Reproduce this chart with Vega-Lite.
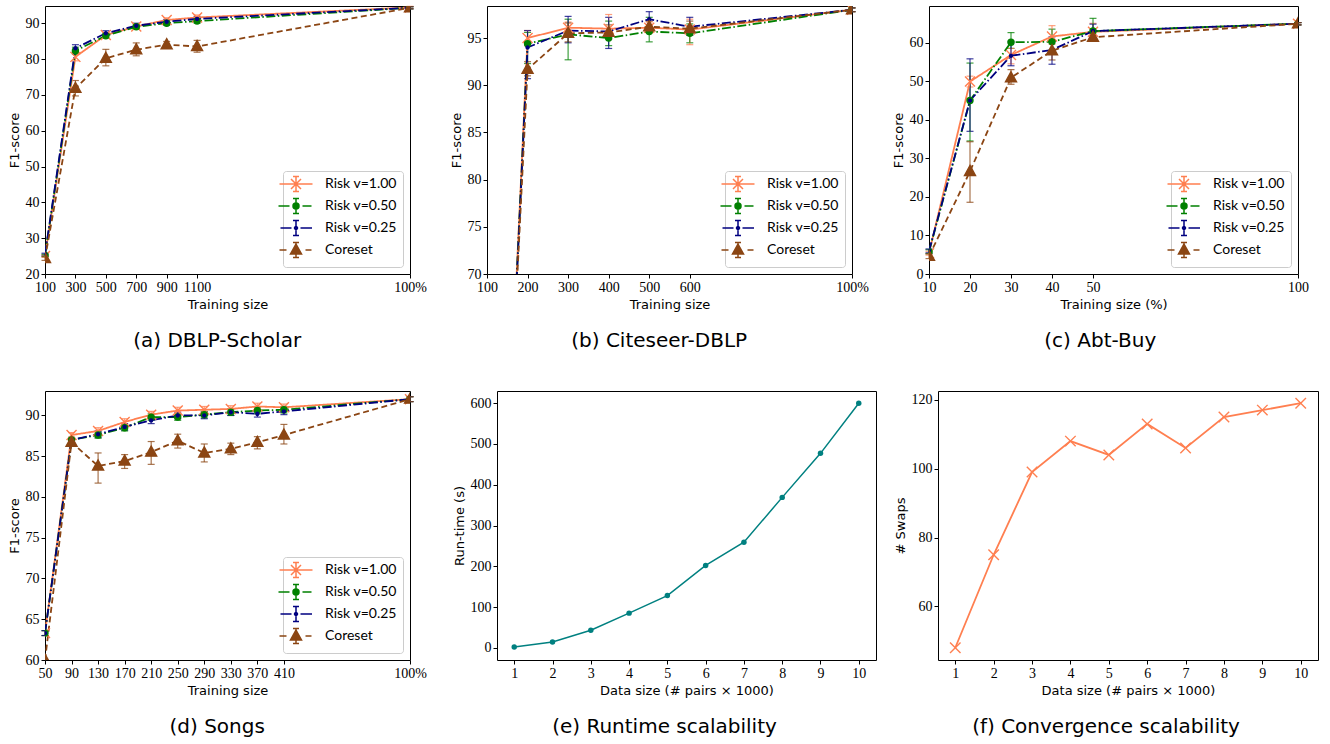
{
"$schema": "https://vega.github.io/schema/vega-lite/v6.json",
"background": "white",
"padding": {"left": 7, "top": 5, "right": 5, "bottom": 5},
"config": {
  "view": {"stroke": "#000000", "strokeWidth": 1},
  "axis": {"grid": false, "domain": false, "ticks": true, "tickSize": 4, "tickColor": "#000000", "labelFont": "Liberation Serif, DejaVu Serif, serif", "labelFontSize": 14, "labelColor": "#000000", "titleFont": "DejaVu Sans", "titleFontSize": 13, "titleFontWeight": "normal", "titleColor": "#000000", "labelPadding": 2, "titlePadding": 4},
  "axisX": {"labelFlush": false, "labelOverlap": false},
  "axisY": {"labelOverlap": false},
  "legend": {"orient": "bottom-right", "offset": 7, "padding": 6, "strokeColor": "#cccccc", "cornerRadius": 3, "fillColor": "#ffffff", "labelFont": "Lato", "labelFontSize": 14, "labelColor": "#000000", "rowPadding": 0, "symbolSize": 100, "symbolStrokeWidth": 1.5, "labelOffset": 22},
  "title": {"orient": "bottom", "anchor": "middle", "frame": "bounds", "font": "DejaVu Sans", "fontSize": 20, "fontWeight": "normal", "color": "#000000", "offset": 20}
},
"datasets": {
  "a": [
    {"s":"Risk v=1.00","x":100,"y":25.0,"lo":24.7,"hi":25.3},
    {"s":"Risk v=1.00","x":300,"y":80.6,"lo":79.5,"hi":81.8},
    {"s":"Risk v=1.00","x":500,"y":86.7,"lo":86.0,"hi":87.4},
    {"s":"Risk v=1.00","x":700,"y":89.1,"lo":88.4,"hi":89.8},
    {"s":"Risk v=1.00","x":900,"y":90.9,"lo":90.3,"hi":91.5},
    {"s":"Risk v=1.00","x":1100,"y":91.6,"lo":90.9,"hi":92.3},
    {"s":"Risk v=1.00","x":2500,"y":94.4,"lo":94.1,"hi":94.7},
    {"s":"Risk v=0.50","x":100,"y":25.2,"lo":24.9,"hi":25.5},
    {"s":"Risk v=0.50","x":300,"y":82.3,"lo":81.3,"hi":83.3},
    {"s":"Risk v=0.50","x":500,"y":86.5,"lo":85.8,"hi":87.2},
    {"s":"Risk v=0.50","x":700,"y":89.0,"lo":88.3,"hi":89.7},
    {"s":"Risk v=0.50","x":900,"y":90.0,"lo":89.4,"hi":90.6},
    {"s":"Risk v=0.50","x":1100,"y":90.6,"lo":90.0,"hi":91.2},
    {"s":"Risk v=0.50","x":2500,"y":94.3,"lo":94.0,"hi":94.6},
    {"s":"Risk v=0.25","x":100,"y":25.5,"lo":25.2,"hi":25.8},
    {"s":"Risk v=0.25","x":300,"y":83.0,"lo":82.0,"hi":84.0},
    {"s":"Risk v=0.25","x":500,"y":87.2,"lo":86.5,"hi":87.9},
    {"s":"Risk v=0.25","x":700,"y":89.3,"lo":88.6,"hi":90.0},
    {"s":"Risk v=0.25","x":900,"y":90.4,"lo":89.8,"hi":91.0},
    {"s":"Risk v=0.25","x":1100,"y":91.2,"lo":90.6,"hi":91.8},
    {"s":"Risk v=0.25","x":2500,"y":94.3,"lo":94.0,"hi":94.6},
    {"s":"Coreset","x":100,"y":24.3,"lo":23.8,"hi":24.8},
    {"s":"Coreset","x":300,"y":71.8,"lo":69.7,"hi":74.0},
    {"s":"Coreset","x":500,"y":80.2,"lo":78.1,"hi":82.7},
    {"s":"Coreset","x":700,"y":82.6,"lo":80.9,"hi":84.5},
    {"s":"Coreset","x":900,"y":84.0,"lo":83.1,"hi":84.9},
    {"s":"Coreset","x":1100,"y":83.5,"lo":81.9,"hi":85.2},
    {"s":"Coreset","x":2500,"y":94.3,"lo":94.0,"hi":94.6}
  ],
  "b": [
    {"s":"Risk v=1.00","x":100,"y":2,"lo":null,"hi":null},
    {"s":"Risk v=1.00","x":200,"y":95.0,"lo":94.2,"hi":95.8},
    {"s":"Risk v=1.00","x":300,"y":96.1,"lo":95.5,"hi":96.7},
    {"s":"Risk v=1.00","x":400,"y":96.0,"lo":95.2,"hi":97.5},
    {"s":"Risk v=1.00","x":500,"y":96.1,"lo":95.5,"hi":96.7},
    {"s":"Risk v=1.00","x":600,"y":95.9,"lo":94.3,"hi":97.0},
    {"s":"Risk v=1.00","x":1000,"y":98.0,"lo":97.8,"hi":98.2},
    {"s":"Risk v=0.50","x":100,"y":2,"lo":null,"hi":null},
    {"s":"Risk v=0.50","x":200,"y":94.4,"lo":92.3,"hi":95.6},
    {"s":"Risk v=0.50","x":300,"y":95.4,"lo":92.7,"hi":97.0},
    {"s":"Risk v=0.50","x":400,"y":95.0,"lo":94.2,"hi":96.8},
    {"s":"Risk v=0.50","x":500,"y":95.7,"lo":94.6,"hi":97.2},
    {"s":"Risk v=0.50","x":600,"y":95.5,"lo":94.5,"hi":96.5},
    {"s":"Risk v=0.50","x":1000,"y":98.0,"lo":97.8,"hi":98.2},
    {"s":"Risk v=0.25","x":100,"y":2,"lo":null,"hi":null},
    {"s":"Risk v=0.25","x":200,"y":94.0,"lo":90.7,"hi":95.8},
    {"s":"Risk v=0.25","x":300,"y":95.8,"lo":94.5,"hi":97.3},
    {"s":"Risk v=0.25","x":400,"y":95.7,"lo":93.9,"hi":97.2},
    {"s":"Risk v=0.25","x":500,"y":97.0,"lo":96.1,"hi":97.8},
    {"s":"Risk v=0.25","x":600,"y":96.2,"lo":95.3,"hi":97.2},
    {"s":"Risk v=0.25","x":1000,"y":98.0,"lo":97.8,"hi":98.2},
    {"s":"Coreset","x":100,"y":5,"lo":null,"hi":null},
    {"s":"Coreset","x":200,"y":91.7,"lo":91.0,"hi":92.5},
    {"s":"Coreset","x":300,"y":95.5,"lo":94.6,"hi":96.6},
    {"s":"Coreset","x":400,"y":95.6,"lo":94.9,"hi":96.4},
    {"s":"Coreset","x":500,"y":96.2,"lo":95.6,"hi":96.8},
    {"s":"Coreset","x":600,"y":96.0,"lo":95.3,"hi":96.8},
    {"s":"Coreset","x":1000,"y":98.0,"lo":97.8,"hi":98.2}
  ],
  "c": [
    {"s":"Risk v=1.00","x":10,"y":5.4,"lo":4.9,"hi":5.9},
    {"s":"Risk v=1.00","x":20,"y":49.9,"lo":48.5,"hi":51.3},
    {"s":"Risk v=1.00","x":30,"y":56.8,"lo":54.5,"hi":58.5},
    {"s":"Risk v=1.00","x":40,"y":61.6,"lo":59.6,"hi":64.4},
    {"s":"Risk v=1.00","x":50,"y":62.8,"lo":60.8,"hi":65.0},
    {"s":"Risk v=1.00","x":100,"y":64.9,"lo":64.6,"hi":65.2},
    {"s":"Risk v=0.50","x":10,"y":5.8,"lo":5.3,"hi":6.3},
    {"s":"Risk v=0.50","x":20,"y":45.0,"lo":34.5,"hi":54.7},
    {"s":"Risk v=0.50","x":30,"y":60.1,"lo":58.5,"hi":62.6},
    {"s":"Risk v=0.50","x":40,"y":60.2,"lo":57.5,"hi":63.5},
    {"s":"Risk v=0.50","x":50,"y":63.0,"lo":60.6,"hi":66.3},
    {"s":"Risk v=0.50","x":100,"y":64.9,"lo":64.6,"hi":65.2},
    {"s":"Risk v=0.25","x":10,"y":6.0,"lo":5.5,"hi":6.5},
    {"s":"Risk v=0.25","x":20,"y":45.0,"lo":37.0,"hi":55.8},
    {"s":"Risk v=0.25","x":30,"y":56.6,"lo":54.0,"hi":60.2},
    {"s":"Risk v=0.25","x":40,"y":58.1,"lo":54.4,"hi":61.5},
    {"s":"Risk v=0.25","x":50,"y":63.0,"lo":61.0,"hi":64.8},
    {"s":"Risk v=0.25","x":100,"y":64.9,"lo":64.6,"hi":65.2},
    {"s":"Coreset","x":10,"y":4.6,"lo":4.0,"hi":5.2},
    {"s":"Coreset","x":20,"y":26.6,"lo":18.6,"hi":34.3},
    {"s":"Coreset","x":30,"y":50.9,"lo":49.2,"hi":53.0},
    {"s":"Coreset","x":40,"y":57.9,"lo":55.5,"hi":60.5},
    {"s":"Coreset","x":50,"y":61.4,"lo":60.5,"hi":62.5},
    {"s":"Coreset","x":100,"y":64.9,"lo":64.6,"hi":65.2}
  ],
  "d": [
    {"s":"Risk v=1.00","x":50,"y":63.3,"lo":63.0,"hi":63.6},
    {"s":"Risk v=1.00","x":90,"y":87.6,"lo":87.3,"hi":87.9},
    {"s":"Risk v=1.00","x":130,"y":88.1,"lo":87.7,"hi":88.5},
    {"s":"Risk v=1.00","x":170,"y":89.2,"lo":88.8,"hi":89.6},
    {"s":"Risk v=1.00","x":210,"y":90.1,"lo":89.7,"hi":90.5},
    {"s":"Risk v=1.00","x":250,"y":90.6,"lo":90.2,"hi":91.0},
    {"s":"Risk v=1.00","x":290,"y":90.7,"lo":90.3,"hi":91.1},
    {"s":"Risk v=1.00","x":330,"y":90.8,"lo":90.4,"hi":91.2},
    {"s":"Risk v=1.00","x":370,"y":91.1,"lo":90.7,"hi":91.5},
    {"s":"Risk v=1.00","x":410,"y":91.0,"lo":90.6,"hi":91.4},
    {"s":"Risk v=1.00","x":600,"y":92.0,"lo":91.7,"hi":92.3},
    {"s":"Risk v=0.50","x":50,"y":63.3,"lo":63.0,"hi":63.6},
    {"s":"Risk v=0.50","x":90,"y":87.0,"lo":86.7,"hi":87.3},
    {"s":"Risk v=0.50","x":130,"y":87.6,"lo":87.2,"hi":88.0},
    {"s":"Risk v=0.50","x":170,"y":88.5,"lo":88.1,"hi":88.9},
    {"s":"Risk v=0.50","x":210,"y":89.8,"lo":89.4,"hi":90.2},
    {"s":"Risk v=0.50","x":250,"y":89.8,"lo":89.4,"hi":90.2},
    {"s":"Risk v=0.50","x":290,"y":90.1,"lo":89.7,"hi":90.5},
    {"s":"Risk v=0.50","x":330,"y":90.4,"lo":90.0,"hi":90.8},
    {"s":"Risk v=0.50","x":370,"y":90.6,"lo":90.2,"hi":91.0},
    {"s":"Risk v=0.50","x":410,"y":90.7,"lo":90.3,"hi":91.1},
    {"s":"Risk v=0.50","x":600,"y":92.0,"lo":91.7,"hi":92.3},
    {"s":"Risk v=0.25","x":50,"y":63.3,"lo":63.0,"hi":63.6},
    {"s":"Risk v=0.25","x":90,"y":87.0,"lo":86.7,"hi":87.3},
    {"s":"Risk v=0.25","x":130,"y":87.7,"lo":87.3,"hi":88.1},
    {"s":"Risk v=0.25","x":170,"y":88.6,"lo":88.2,"hi":89.0},
    {"s":"Risk v=0.25","x":210,"y":89.4,"lo":89.0,"hi":89.8},
    {"s":"Risk v=0.25","x":250,"y":90.0,"lo":89.6,"hi":90.4},
    {"s":"Risk v=0.25","x":290,"y":90.0,"lo":89.6,"hi":90.4},
    {"s":"Risk v=0.25","x":330,"y":90.4,"lo":90.0,"hi":90.8},
    {"s":"Risk v=0.25","x":370,"y":90.2,"lo":89.8,"hi":90.6},
    {"s":"Risk v=0.25","x":410,"y":90.5,"lo":90.1,"hi":90.9},
    {"s":"Risk v=0.25","x":600,"y":92.0,"lo":91.7,"hi":92.3},
    {"s":"Coreset","x":50,"y":60.0,"lo":null,"hi":null},
    {"s":"Coreset","x":90,"y":86.7,"lo":86.3,"hi":87.1},
    {"s":"Coreset","x":130,"y":83.8,"lo":81.7,"hi":85.4},
    {"s":"Coreset","x":170,"y":84.4,"lo":83.5,"hi":85.2},
    {"s":"Coreset","x":210,"y":85.5,"lo":84.0,"hi":86.8},
    {"s":"Coreset","x":250,"y":86.9,"lo":86.0,"hi":87.7},
    {"s":"Coreset","x":290,"y":85.4,"lo":84.3,"hi":86.5},
    {"s":"Coreset","x":330,"y":85.9,"lo":85.2,"hi":86.6},
    {"s":"Coreset","x":370,"y":86.7,"lo":85.9,"hi":87.4},
    {"s":"Coreset","x":410,"y":87.6,"lo":86.5,"hi":88.9},
    {"s":"Coreset","x":600,"y":92.0,"lo":91.7,"hi":92.3}
  ],
  "e": [
    {"x":1,"y":2},{"x":2,"y":14},{"x":3,"y":43},{"x":4,"y":85},{"x":5,"y":128},
    {"x":6,"y":202},{"x":7,"y":259},{"x":8,"y":369},{"x":9,"y":477},{"x":10,"y":600}
  ],
  "f": [
    {"x":1,"y":48},{"x":2,"y":75},{"x":3,"y":99},{"x":4,"y":108},{"x":5,"y":104},
    {"x":6,"y":113},{"x":7,"y":106},{"x":8,"y":115},{"x":9,"y":117},{"x":10,"y":119}
  ]
},
"spacing": 38,
"vconcat": [
 {"hconcat": [
  {
   "width": 365, "height": 268,
   "title": {"text": "(a) DBLP-Scholar"},
   "data": {"name": "a"},
   "encoding": {"x": {"field": "x", "type": "quantitative", "scale": {"domain": [100, 2500], "nice": false, "zero": false}, "axis": {"values": [100,300,500,700,900,1100,2500], "format": "d", "labelExpr": "datum.value == 2500 ? '100%' : datum.label", "title": "Training size"}}},
   "layer": [
    {"transform": [{"filter": "datum.lo != null"}],
     "mark": {"type": "errorbar", "ticks": {"size": 7, "opacity": 0.75}, "rule": {"opacity": 0.75}, "thickness": 1.2},
     "encoding": {"y": {"field": "lo", "type": "quantitative", "scale": {"domain": [20, 94.8], "nice": false, "zero": false}, "axis": {"values": [20,30,40,50,60,70,80,90], "title": "F1-score"}}, "y2": {"field": "hi"},
       "color": {"field": "s", "type": "nominal", "scale": {"domain": ["Risk v=1.00","Risk v=0.50","Risk v=0.25","Coreset"], "range": ["#FF7F50","#008000","#000080","#8B4513"]}, "legend": null}}},
    {"mark": {"type": "line", "strokeWidth": 1.8, "clip": true},
     "encoding": {"y": {"field": "y", "type": "quantitative", "scale": {"domain": [20, 94.8], "nice": false, "zero": false}, "axis": {"values": [20,30,40,50,60,70,80,90], "title": "F1-score"}},
       "color": {"field": "s", "type": "nominal", "scale": {"domain": ["Risk v=1.00","Risk v=0.50","Risk v=0.25","Coreset"], "range": ["#FF7F50","#008000","#000080","#8B4513"]}, "legend": null},
       "strokeDash": {"field": "s", "type": "nominal", "scale": {"domain": ["Risk v=1.00","Risk v=0.50","Risk v=0.25","Coreset"], "range": [[1,0],[9,2.5,1.5,2.5],[9,2.5,1.5,2.5],[6,3.5]]}, "legend": null}}},
    {"mark": {"type": "point", "filled": true, "strokeWidth": 1.4, "opacity": 1, "size": 100, "clip": true},
     "encoding": {"y": {"field": "y", "type": "quantitative", "scale": {"domain": [20, 94.8], "nice": false, "zero": false}, "axis": {"values": [20,30,40,50,60,70,80,90], "title": "F1-score"}},
       "fill": {"field": "s", "type": "nominal", "scale": {"domain": ["Risk v=1.00","Risk v=0.50","Risk v=0.25","Coreset"], "range": ["transparent","#008000","#000080","#8B4513"]}, "legend": null},
       "stroke": {"field": "s", "type": "nominal", "scale": {"domain": ["Risk v=1.00","Risk v=0.50","Risk v=0.25","Coreset"], "range": ["#FF7F50","#008000","#000080","#8B4513"]}, "legend": null},
       "shape": {"field": "s", "type": "nominal", "scale": {"domain": ["Risk v=1.00","Risk v=0.50","Risk v=0.25","Coreset"], "range": ["M-1,-1L1,1M-1,1L1,-1","M-0.6,0A0.6,0.6,0,1,0,0.6,0A0.6,0.6,0,1,0,-0.6,0Z","M-0.3,0A0.3,0.3,0,1,0,0.3,0A0.3,0.3,0,1,0,-0.3,0Z","M0,-1.2L1.1,0.8L-1.1,0.8Z"]}, "legend": null}}},
    {"transform": [{"filter": "false"}],
     "mark": {"type": "point", "filled": true, "strokeWidth": 1.5, "opacity": 1, "size": 100},
     "encoding": {
       "fill": {"field": "s", "type": "nominal", "scale": {"domain": ["Risk v=1.00","Risk v=0.50","Risk v=0.25","Coreset"], "range": ["#FF7F50","#008000","#000080","#8B4513"]}, "legend": {"title": null}},
       "stroke": {"field": "s", "type": "nominal", "scale": {"domain": ["Risk v=1.00","Risk v=0.50","Risk v=0.25","Coreset"], "range": ["#FF7F50","#008000","#000080","#8B4513"]}, "legend": {"title": null}},
       "shape": {"field": "s", "type": "nominal", "scale": {"domain": ["Risk v=1.00","Risk v=0.50","Risk v=0.25","Coreset"], "range": [
         "M-3.3,0L3.3,0M0,-1.5L0,1.5M-0.6,-1.5L0.6,-1.5M-0.6,1.5L0.6,1.5M-1,-1L1,1M-1,1L1,-1",
         "M-3.5,0L-1.3,0M1.3,0L3.1,0M0,-1.5L0,1.5M-0.6,-1.5L0.6,-1.5M-0.6,1.5L0.6,1.5M-0.6,0A0.6,0.6,0,1,0,0.6,0A0.6,0.6,0,1,0,-0.6,0Z",
         "M-3.1,0L-0.9,0M0.9,0L3.2,0M0,-1.5L0,1.5M-0.6,-1.5L0.6,-1.5M-0.6,1.5L0.6,1.5M-0.3,0A0.3,0.3,0,1,0,0.3,0A0.3,0.3,0,1,0,-0.3,0Z",
         "M-3.3,0L-1.9,0M1.9,0L3.1,0M0,-1.5L0,1.5M-0.6,-1.5L0.6,-1.5M-0.6,1.5L0.6,1.5M0,-1.2L1.1,0.8L-1.1,0.8Z"]}, "legend": {"title": null}}}}
   ],
   "resolve": {"scale": {"fill": "independent", "stroke": "independent", "shape": "independent"}}
  },
  {
   "width": 365, "height": 268,
   "title": {"text": "(b) Citeseer-DBLP"},
   "data": {"name": "b"},
   "encoding": {"x": {"field": "x", "type": "quantitative", "scale": {"domain": [100, 1000], "nice": false, "zero": false}, "axis": {"values": [100,200,300,400,500,600,1000], "format": "d", "labelExpr": "datum.value == 1000 ? '100%' : datum.label", "title": "Training size"}}},
   "layer": [
    {"transform": [{"filter": "datum.lo != null"}],
     "mark": {"type": "errorbar", "ticks": {"size": 7, "opacity": 0.75}, "rule": {"opacity": 0.75}, "thickness": 1.2},
     "encoding": {"y": {"field": "lo", "type": "quantitative", "scale": {"domain": [70, 98.4], "nice": false, "zero": false}, "axis": {"values": [70,75,80,85,90,95], "title": "F1-score"}}, "y2": {"field": "hi"},
       "color": {"field": "s", "type": "nominal", "scale": {"domain": ["Risk v=1.00","Risk v=0.50","Risk v=0.25","Coreset"], "range": ["#FF7F50","#008000","#000080","#8B4513"]}, "legend": null}}},
    {"mark": {"type": "line", "strokeWidth": 1.8, "clip": true},
     "encoding": {"y": {"field": "y", "type": "quantitative", "scale": {"domain": [70, 98.4], "nice": false, "zero": false}, "axis": {"values": [70,75,80,85,90,95], "title": "F1-score"}},
       "color": {"field": "s", "type": "nominal", "scale": {"domain": ["Risk v=1.00","Risk v=0.50","Risk v=0.25","Coreset"], "range": ["#FF7F50","#008000","#000080","#8B4513"]}, "legend": null},
       "strokeDash": {"field": "s", "type": "nominal", "scale": {"domain": ["Risk v=1.00","Risk v=0.50","Risk v=0.25","Coreset"], "range": [[1,0],[9,2.5,1.5,2.5],[9,2.5,1.5,2.5],[6,3.5]]}, "legend": null}}},
    {"mark": {"type": "point", "filled": true, "strokeWidth": 1.4, "opacity": 1, "size": 100, "clip": true},
     "encoding": {"y": {"field": "y", "type": "quantitative", "scale": {"domain": [70, 98.4], "nice": false, "zero": false}, "axis": {"values": [70,75,80,85,90,95], "title": "F1-score"}},
       "fill": {"field": "s", "type": "nominal", "scale": {"domain": ["Risk v=1.00","Risk v=0.50","Risk v=0.25","Coreset"], "range": ["transparent","#008000","#000080","#8B4513"]}, "legend": null},
       "stroke": {"field": "s", "type": "nominal", "scale": {"domain": ["Risk v=1.00","Risk v=0.50","Risk v=0.25","Coreset"], "range": ["#FF7F50","#008000","#000080","#8B4513"]}, "legend": null},
       "shape": {"field": "s", "type": "nominal", "scale": {"domain": ["Risk v=1.00","Risk v=0.50","Risk v=0.25","Coreset"], "range": ["M-1,-1L1,1M-1,1L1,-1","M-0.6,0A0.6,0.6,0,1,0,0.6,0A0.6,0.6,0,1,0,-0.6,0Z","M-0.3,0A0.3,0.3,0,1,0,0.3,0A0.3,0.3,0,1,0,-0.3,0Z","M0,-1.2L1.1,0.8L-1.1,0.8Z"]}, "legend": null}}},
    {"transform": [{"filter": "false"}],
     "mark": {"type": "point", "filled": true, "strokeWidth": 1.5, "opacity": 1, "size": 100},
     "encoding": {
       "fill": {"field": "s", "type": "nominal", "scale": {"domain": ["Risk v=1.00","Risk v=0.50","Risk v=0.25","Coreset"], "range": ["#FF7F50","#008000","#000080","#8B4513"]}, "legend": {"title": null}},
       "stroke": {"field": "s", "type": "nominal", "scale": {"domain": ["Risk v=1.00","Risk v=0.50","Risk v=0.25","Coreset"], "range": ["#FF7F50","#008000","#000080","#8B4513"]}, "legend": {"title": null}},
       "shape": {"field": "s", "type": "nominal", "scale": {"domain": ["Risk v=1.00","Risk v=0.50","Risk v=0.25","Coreset"], "range": [
         "M-3.3,0L3.3,0M0,-1.5L0,1.5M-0.6,-1.5L0.6,-1.5M-0.6,1.5L0.6,1.5M-1,-1L1,1M-1,1L1,-1",
         "M-3.5,0L-1.3,0M1.3,0L3.1,0M0,-1.5L0,1.5M-0.6,-1.5L0.6,-1.5M-0.6,1.5L0.6,1.5M-0.6,0A0.6,0.6,0,1,0,0.6,0A0.6,0.6,0,1,0,-0.6,0Z",
         "M-3.1,0L-0.9,0M0.9,0L3.2,0M0,-1.5L0,1.5M-0.6,-1.5L0.6,-1.5M-0.6,1.5L0.6,1.5M-0.3,0A0.3,0.3,0,1,0,0.3,0A0.3,0.3,0,1,0,-0.3,0Z",
         "M-3.3,0L-1.9,0M1.9,0L3.1,0M0,-1.5L0,1.5M-0.6,-1.5L0.6,-1.5M-0.6,1.5L0.6,1.5M0,-1.2L1.1,0.8L-1.1,0.8Z"]}, "legend": {"title": null}}}}
   ],
   "resolve": {"scale": {"fill": "independent", "stroke": "independent", "shape": "independent"}}
  },
  {
   "width": 369, "height": 268,
   "title": {"text": "(c) Abt-Buy"},
   "data": {"name": "c"},
   "encoding": {"x": {"field": "x", "type": "quantitative", "scale": {"domain": [10, 100], "nice": false, "zero": false}, "axis": {"values": [10,20,30,40,50,100], "title": "Training size (%)"}}},
   "layer": [
    {"transform": [{"filter": "datum.lo != null"}],
     "mark": {"type": "errorbar", "ticks": {"size": 7, "opacity": 0.75}, "rule": {"opacity": 0.75}, "thickness": 1.2},
     "encoding": {"y": {"field": "lo", "type": "quantitative", "scale": {"domain": [0, 69.5], "nice": false, "zero": false}, "axis": {"values": [0,10,20,30,40,50,60], "title": "F1-score"}}, "y2": {"field": "hi"},
       "color": {"field": "s", "type": "nominal", "scale": {"domain": ["Risk v=1.00","Risk v=0.50","Risk v=0.25","Coreset"], "range": ["#FF7F50","#008000","#000080","#8B4513"]}, "legend": null}}},
    {"mark": {"type": "line", "strokeWidth": 1.8, "clip": true},
     "encoding": {"y": {"field": "y", "type": "quantitative", "scale": {"domain": [0, 69.5], "nice": false, "zero": false}, "axis": {"values": [0,10,20,30,40,50,60], "title": "F1-score"}},
       "color": {"field": "s", "type": "nominal", "scale": {"domain": ["Risk v=1.00","Risk v=0.50","Risk v=0.25","Coreset"], "range": ["#FF7F50","#008000","#000080","#8B4513"]}, "legend": null},
       "strokeDash": {"field": "s", "type": "nominal", "scale": {"domain": ["Risk v=1.00","Risk v=0.50","Risk v=0.25","Coreset"], "range": [[1,0],[9,2.5,1.5,2.5],[9,2.5,1.5,2.5],[6,3.5]]}, "legend": null}}},
    {"mark": {"type": "point", "filled": true, "strokeWidth": 1.4, "opacity": 1, "size": 100, "clip": true},
     "encoding": {"y": {"field": "y", "type": "quantitative", "scale": {"domain": [0, 69.5], "nice": false, "zero": false}, "axis": {"values": [0,10,20,30,40,50,60], "title": "F1-score"}},
       "fill": {"field": "s", "type": "nominal", "scale": {"domain": ["Risk v=1.00","Risk v=0.50","Risk v=0.25","Coreset"], "range": ["transparent","#008000","#000080","#8B4513"]}, "legend": null},
       "stroke": {"field": "s", "type": "nominal", "scale": {"domain": ["Risk v=1.00","Risk v=0.50","Risk v=0.25","Coreset"], "range": ["#FF7F50","#008000","#000080","#8B4513"]}, "legend": null},
       "shape": {"field": "s", "type": "nominal", "scale": {"domain": ["Risk v=1.00","Risk v=0.50","Risk v=0.25","Coreset"], "range": ["M-1,-1L1,1M-1,1L1,-1","M-0.6,0A0.6,0.6,0,1,0,0.6,0A0.6,0.6,0,1,0,-0.6,0Z","M-0.3,0A0.3,0.3,0,1,0,0.3,0A0.3,0.3,0,1,0,-0.3,0Z","M0,-1.2L1.1,0.8L-1.1,0.8Z"]}, "legend": null}}},
    {"transform": [{"filter": "false"}],
     "mark": {"type": "point", "filled": true, "strokeWidth": 1.5, "opacity": 1, "size": 100},
     "encoding": {
       "fill": {"field": "s", "type": "nominal", "scale": {"domain": ["Risk v=1.00","Risk v=0.50","Risk v=0.25","Coreset"], "range": ["#FF7F50","#008000","#000080","#8B4513"]}, "legend": {"title": null}},
       "stroke": {"field": "s", "type": "nominal", "scale": {"domain": ["Risk v=1.00","Risk v=0.50","Risk v=0.25","Coreset"], "range": ["#FF7F50","#008000","#000080","#8B4513"]}, "legend": {"title": null}},
       "shape": {"field": "s", "type": "nominal", "scale": {"domain": ["Risk v=1.00","Risk v=0.50","Risk v=0.25","Coreset"], "range": [
         "M-3.3,0L3.3,0M0,-1.5L0,1.5M-0.6,-1.5L0.6,-1.5M-0.6,1.5L0.6,1.5M-1,-1L1,1M-1,1L1,-1",
         "M-3.5,0L-1.3,0M1.3,0L3.1,0M0,-1.5L0,1.5M-0.6,-1.5L0.6,-1.5M-0.6,1.5L0.6,1.5M-0.6,0A0.6,0.6,0,1,0,0.6,0A0.6,0.6,0,1,0,-0.6,0Z",
         "M-3.1,0L-0.9,0M0.9,0L3.2,0M0,-1.5L0,1.5M-0.6,-1.5L0.6,-1.5M-0.6,1.5L0.6,1.5M-0.3,0A0.3,0.3,0,1,0,0.3,0A0.3,0.3,0,1,0,-0.3,0Z",
         "M-3.3,0L-1.9,0M1.9,0L3.1,0M0,-1.5L0,1.5M-0.6,-1.5L0.6,-1.5M-0.6,1.5L0.6,1.5M0,-1.2L1.1,0.8L-1.1,0.8Z"]}, "legend": {"title": null}}}}
   ],
   "resolve": {"scale": {"fill": "independent", "stroke": "independent", "shape": "independent"}}
  }
 ], "spacing": 22},
 {"hconcat": [
  {
   "width": 365, "height": 269,
   "title": {"text": "(d) Songs"},
   "data": {"name": "d"},
   "encoding": {"x": {"field": "x", "type": "quantitative", "scale": {"domain": [50, 600], "nice": false, "zero": false}, "axis": {"values": [50,90,130,170,210,250,290,330,370,410,600], "format": "d", "labelExpr": "datum.value == 600 ? '100%' : datum.label", "title": "Training size"}}},
   "layer": [
    {"transform": [{"filter": "datum.lo != null"}],
     "mark": {"type": "errorbar", "ticks": {"size": 7, "opacity": 0.75}, "rule": {"opacity": 0.75}, "thickness": 1.2},
     "encoding": {"y": {"field": "lo", "type": "quantitative", "scale": {"domain": [60, 93], "nice": false, "zero": false}, "axis": {"values": [60,65,70,75,80,85,90], "title": "F1-score"}}, "y2": {"field": "hi"},
       "color": {"field": "s", "type": "nominal", "scale": {"domain": ["Risk v=1.00","Risk v=0.50","Risk v=0.25","Coreset"], "range": ["#FF7F50","#008000","#000080","#8B4513"]}, "legend": null}}},
    {"mark": {"type": "line", "strokeWidth": 1.8, "clip": true},
     "encoding": {"y": {"field": "y", "type": "quantitative", "scale": {"domain": [60, 93], "nice": false, "zero": false}, "axis": {"values": [60,65,70,75,80,85,90], "title": "F1-score"}},
       "color": {"field": "s", "type": "nominal", "scale": {"domain": ["Risk v=1.00","Risk v=0.50","Risk v=0.25","Coreset"], "range": ["#FF7F50","#008000","#000080","#8B4513"]}, "legend": null},
       "strokeDash": {"field": "s", "type": "nominal", "scale": {"domain": ["Risk v=1.00","Risk v=0.50","Risk v=0.25","Coreset"], "range": [[1,0],[9,2.5,1.5,2.5],[9,2.5,1.5,2.5],[6,3.5]]}, "legend": null}}},
    {"mark": {"type": "point", "filled": true, "strokeWidth": 1.4, "opacity": 1, "size": 100, "clip": true},
     "encoding": {"y": {"field": "y", "type": "quantitative", "scale": {"domain": [60, 93], "nice": false, "zero": false}, "axis": {"values": [60,65,70,75,80,85,90], "title": "F1-score"}},
       "fill": {"field": "s", "type": "nominal", "scale": {"domain": ["Risk v=1.00","Risk v=0.50","Risk v=0.25","Coreset"], "range": ["transparent","#008000","#000080","#8B4513"]}, "legend": null},
       "stroke": {"field": "s", "type": "nominal", "scale": {"domain": ["Risk v=1.00","Risk v=0.50","Risk v=0.25","Coreset"], "range": ["#FF7F50","#008000","#000080","#8B4513"]}, "legend": null},
       "shape": {"field": "s", "type": "nominal", "scale": {"domain": ["Risk v=1.00","Risk v=0.50","Risk v=0.25","Coreset"], "range": ["M-1,-1L1,1M-1,1L1,-1","M-0.6,0A0.6,0.6,0,1,0,0.6,0A0.6,0.6,0,1,0,-0.6,0Z","M-0.3,0A0.3,0.3,0,1,0,0.3,0A0.3,0.3,0,1,0,-0.3,0Z","M0,-1.2L1.1,0.8L-1.1,0.8Z"]}, "legend": null}}},
    {"transform": [{"filter": "false"}],
     "mark": {"type": "point", "filled": true, "strokeWidth": 1.5, "opacity": 1, "size": 100},
     "encoding": {
       "fill": {"field": "s", "type": "nominal", "scale": {"domain": ["Risk v=1.00","Risk v=0.50","Risk v=0.25","Coreset"], "range": ["#FF7F50","#008000","#000080","#8B4513"]}, "legend": {"title": null}},
       "stroke": {"field": "s", "type": "nominal", "scale": {"domain": ["Risk v=1.00","Risk v=0.50","Risk v=0.25","Coreset"], "range": ["#FF7F50","#008000","#000080","#8B4513"]}, "legend": {"title": null}},
       "shape": {"field": "s", "type": "nominal", "scale": {"domain": ["Risk v=1.00","Risk v=0.50","Risk v=0.25","Coreset"], "range": [
         "M-3.3,0L3.3,0M0,-1.5L0,1.5M-0.6,-1.5L0.6,-1.5M-0.6,1.5L0.6,1.5M-1,-1L1,1M-1,1L1,-1",
         "M-3.5,0L-1.3,0M1.3,0L3.1,0M0,-1.5L0,1.5M-0.6,-1.5L0.6,-1.5M-0.6,1.5L0.6,1.5M-0.6,0A0.6,0.6,0,1,0,0.6,0A0.6,0.6,0,1,0,-0.6,0Z",
         "M-3.1,0L-0.9,0M0.9,0L3.2,0M0,-1.5L0,1.5M-0.6,-1.5L0.6,-1.5M-0.6,1.5L0.6,1.5M-0.3,0A0.3,0.3,0,1,0,0.3,0A0.3,0.3,0,1,0,-0.3,0Z",
         "M-3.3,0L-1.9,0M1.9,0L3.1,0M0,-1.5L0,1.5M-0.6,-1.5L0.6,-1.5M-0.6,1.5L0.6,1.5M0,-1.2L1.1,0.8L-1.1,0.8Z"]}, "legend": {"title": null}}}}
   ],
   "resolve": {"scale": {"fill": "independent", "stroke": "independent", "shape": "independent"}}
  },
  {"hconcat": [
   {
    "width": 379, "height": 269,
    "title": {"text": "(e) Runtime scalability"},
    "data": {"name": "e"},
    "encoding": {
      "x": {"field": "x", "type": "quantitative", "scale": {"domain": [0.55, 10.45], "nice": false, "zero": false}, "axis": {"values": [1,2,3,4,5,6,7,8,9,10], "title": "Data size (# pairs × 1000)"}},
      "y": {"field": "y", "type": "quantitative", "scale": {"domain": [-30, 630], "nice": false, "zero": false}, "axis": {"values": [0,100,200,300,400,500,600], "title": "Run-time (s)"}}},
    "layer": [
      {"mark": {"type": "line", "color": "#008080", "strokeWidth": 1.5}},
      {"mark": {"type": "point", "filled": true, "color": "#008080", "size": 30, "opacity": 1}}
    ]
   },
   {
    "width": 380, "height": 269,
    "title": {"text": "(f) Convergence scalability"},
    "data": {"name": "f"},
    "encoding": {
      "x": {"field": "x", "type": "quantitative", "scale": {"domain": [0.55, 10.45], "nice": false, "zero": false}, "axis": {"values": [1,2,3,4,5,6,7,8,9,10], "title": "Data size (# pairs × 1000)"}},
      "y": {"field": "y", "type": "quantitative", "scale": {"domain": [44.45, 122.55], "nice": false, "zero": false}, "axis": {"values": [60,80,100,120], "title": "# Swaps"}}},
    "layer": [
      {"mark": {"type": "line", "color": "#FF7F50", "strokeWidth": 1.8}},
      {"mark": {"type": "point", "filled": false, "color": "#FF7F50", "strokeWidth": 1.4, "size": 110, "opacity": 1, "shape": "M-1,-1L1,1M-1,1L1,-1"}}
    ]
   }
  ], "spacing": 16}
 ], "spacing": 25}
]
}
